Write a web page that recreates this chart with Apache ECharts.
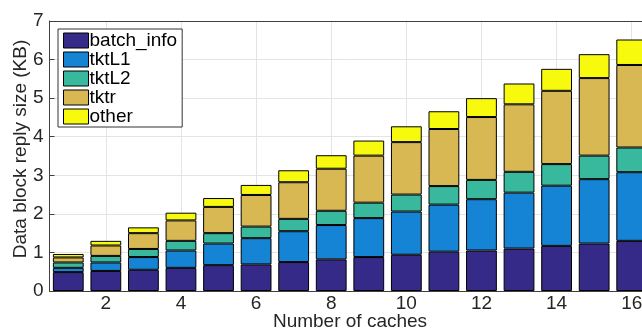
<!DOCTYPE html>
<html>
<head>
<meta charset="utf-8">
<script src="https://cdn.jsdelivr.net/npm/echarts@6/dist/echarts.min.js"></script>
<style>
  html, body { margin: 0; padding: 0; background: #fff; }
  #chart { width: 642px; height: 333px; }
</style>
</head>
<body>
<div id="chart"></div>
<script>
const categories = ['1','2','3','4','5','6','7','8','9','10','11','12','13','14','15','16'];
const batchInfo = [0.49,0.52,0.55,0.60,0.67,0.69,0.75,0.82,0.88,0.94,1.02,1.05,1.10,1.17,1.23,1.30];
const tktL1 =     [0.11,0.22,0.33,0.45,0.56,0.68,0.80,0.89,1.01,1.12,1.22,1.33,1.45,1.56,1.67,1.78];
const tktL2 =     [0.14,0.17,0.21,0.25,0.27,0.30,0.32,0.37,0.40,0.44,0.48,0.50,0.54,0.56,0.61,0.64];
const tktr =      [0.13,0.27,0.41,0.53,0.68,0.82,0.95,1.09,1.22,1.36,1.48,1.63,1.75,1.90,2.01,2.14];
const other =     [0.09,0.12,0.15,0.20,0.23,0.26,0.31,0.35,0.39,0.41,0.46,0.49,0.54,0.57,0.62,0.66];
const yTicks = [0,1,2,3,4,5,6,7];

const FONT = 'Liberation Sans, Arial, sans-serif';
const AX = '#404040';
const GRIDC = '#e4e4e4';
const even = (i) => i % 2 === 1;

const chart = echarts.init(document.getElementById('chart'));
const mk = (name, data, color) => ({
  name, type: 'bar', stack: 'total', data, barWidth: '82%',
  itemStyle: { color, borderColor: '#000', borderWidth: 1 },
  emphasis: { disabled: true }
});
chart.setOption({
  animation: false,
  textStyle: { fontFamily: FONT },
  grid: { left: 49.5, top: 21, width: 601, height: 270, containLabel: false, outerBoundsMode: 'none' },
  legend: {
    orient: 'vertical', left: 58, top: 29,
    padding: [2, 5, 1, 5],
    icon: 'rect',
    itemWidth: 25, itemHeight: 15, itemGap: 0,
    itemStyle: { borderColor: '#000', borderWidth: 1 },
    backgroundColor: '#fff', borderColor: '#333', borderWidth: 1,
    textStyle: { fontFamily: FONT, fontSize: 19, lineHeight: 19, color: '#000', padding: [0,0,0,-4] },
    data: ['batch_info','tktL1','tktL2','tktr','other']
  },
  xAxis: [{
    type: 'category', data: categories, position: 'bottom',
    name: 'Number of caches', nameLocation: 'middle', nameGap: 21, nameMoveOverlap: false,
    nameTextStyle: { fontFamily: FONT, fontSize: 19, color: '#262626' },
    axisLine: { lineStyle: { color: AX, width: 1 } },
    axisTick: { inside: true, alignWithLabel: true, interval: even, length: 5, lineStyle: { color: AX } },
    axisLabel: { interval: even, fontFamily: FONT, fontSize: 19, color: '#262626', margin: 3 },
    splitLine: { show: true, alignWithLabel: true, interval: even, lineStyle: { color: GRIDC } }
  }, {
    type: 'category', data: categories, position: 'top',
    axisLine: { lineStyle: { color: AX, width: 1 } },
    axisTick: { inside: true, alignWithLabel: true, interval: even, length: 5, lineStyle: { color: AX } },
    axisLabel: { show: false },
    splitLine: { show: false }
  }],
  yAxis: {
    type: 'value', min: yTicks[0], max: yTicks[yTicks.length - 1], interval: 1,
    name: 'Data block reply size (KB)', nameLocation: 'middle', nameGap: 19, nameMoveOverlap: false,
    nameTextStyle: { fontFamily: FONT, fontSize: 19, color: '#262626', padding: [0, 0, 0, 14] },
    axisLine: { show: true, lineStyle: { color: AX, width: 1 } },
    axisTick: { show: true, inside: true, length: 5, lineStyle: { color: AX } },
    axisLabel: { fontFamily: FONT, fontSize: 19, color: '#262626', margin: 6 },
    splitLine: { show: true, lineStyle: { color: GRIDC } }
  },
  series: [
    mk('batch_info', batchInfo, '#352A87'),
    mk('tktL1', tktL1, '#1584D4'),
    mk('tktL2', tktL2, '#38B89D'),
    mk('tktr', tktr, '#D8B853'),
    mk('other', other, '#F8FA0E')
  ]
});
</script>
</body>
</html>
